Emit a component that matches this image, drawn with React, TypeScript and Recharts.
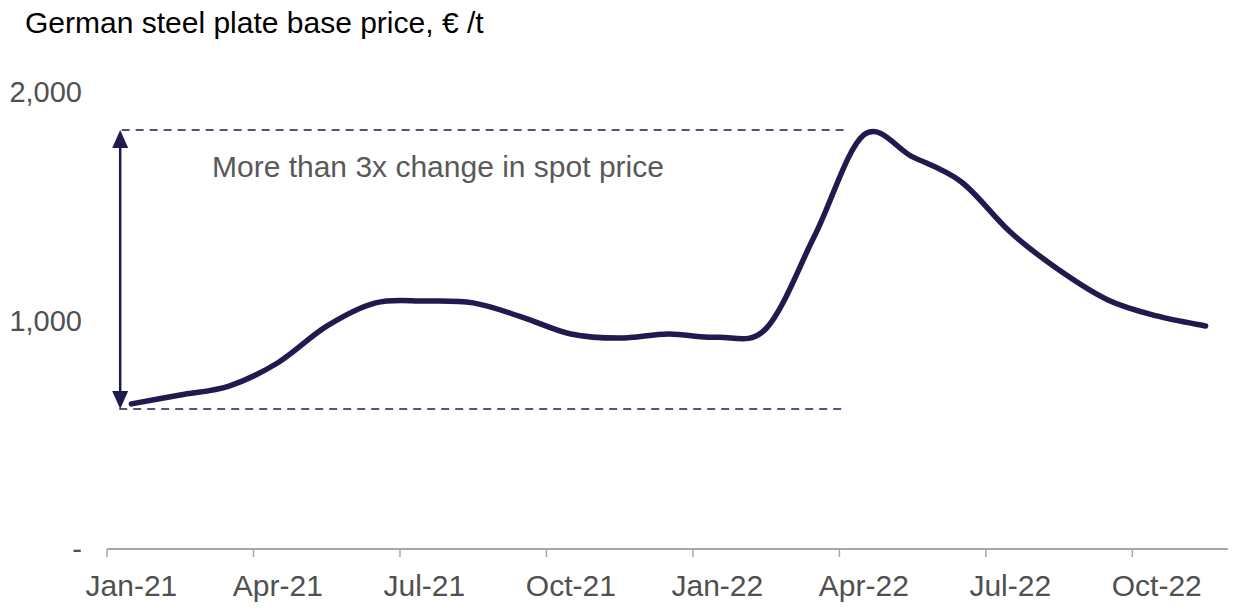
import React from 'react';
import { LineChart, Line, XAxis, YAxis, ReferenceLine, ReferenceDot } from 'recharts';

const months = [
  'Jan-21', 'Feb-21', 'Mar-21', 'Apr-21', 'May-21', 'Jun-21', 'Jul-21', 'Aug-21', 'Sep-21', 'Oct-21', 'Nov-21', 'Dec-21',
  'Jan-22', 'Feb-22', 'Mar-22', 'Apr-22', 'May-22', 'Jun-22', 'Jul-22', 'Aug-22', 'Sep-22', 'Oct-22', 'Nov-22',
];
const prices = [
  635, 674, 713, 815, 975, 1077, 1085, 1077, 1015, 941, 923, 941,
  927, 965, 1374, 1812, 1716, 1606, 1387, 1221, 1090, 1020, 976,
];
const xTickMonths = [0, 3, 6, 9, 12, 15, 18, 21];
const yTicks = [0, 1000, 2000];
const rangeLow = 613;
const rangeHigh = 1834;
const annotation = 'More than 3x change in spot price';
const title = 'German steel plate base price, \u20AC /t';

const data = months.map((label, i) => ({ m: i + 0.5, label, price: prices[i] }));
const labelTicks = xTickMonths.map((t) => t + 0.5);

const NAVY = '#1f1b4e';
const FONT = '"Liberation Sans", Arial, sans-serif';

// Excel-like smoothing (Catmull-Rom through the points)
function smoothCurve(context: any) {
  let pts: number[][] = [];
  return {
    areaStart() {},
    areaEnd() {},
    lineStart() { pts = []; },
    point(x: number, y: number) { pts.push([+x, +y]); },
    lineEnd() {
      const n = pts.length;
      if (!n) return;
      context.moveTo(pts[0][0], pts[0][1]);
      for (let i = 0; i < n - 1; i++) {
        const p0 = pts[Math.max(0, i - 1)];
        const p1 = pts[i];
        const p2 = pts[i + 1];
        const p3 = pts[Math.min(n - 1, i + 2)];
        context.bezierCurveTo(
          p1[0] + (p2[0] - p0[0]) / 6, p1[1] + (p2[1] - p0[1]) / 6,
          p2[0] - (p3[0] - p1[0]) / 6, p2[1] - (p3[1] - p1[1]) / 6,
          p2[0], p2[1],
        );
      }
    },
  };
}

const ArrowShape = (props: any) => {
  const { x1, y1, y2 } = props;
  const top = Math.min(y1, y2);
  const bottom = Math.max(y1, y2);
  const hw = 8;
  const hh = 18;
  return (
    <g>
      <line x1={x1} y1={top + hh - 2} x2={x1} y2={bottom - hh + 2} stroke={NAVY} strokeWidth={2.5} />
      <polygon points={`${x1},${top} ${x1 - hw},${top + hh} ${x1 + hw},${top + hh}`} fill={NAVY} />
      <polygon points={`${x1},${bottom} ${x1 - hw},${bottom - hh} ${x1 + hw},${bottom - hh}`} fill={NAVY} />
    </g>
  );
};

const AnnotationShape = (props: any) => (
  <text x={props.cx} y={props.cy} fill="#595959" fontSize={30} fontFamily={FONT} textAnchor="start">
    {annotation}
  </text>
);

export default function App() {
  return (
    <div style={{ position: 'relative', width: 1228, height: 600, fontFamily: FONT }}>
      <div style={{ position: 'absolute', left: 17, top: 0, fontSize: 30, lineHeight: '30px', color: '#000', whiteSpace: 'nowrap' }}>
        {title}
      </div>
      <LineChart width={1228} height={600} data={data} margin={{ top: 84, right: 6, left: 0, bottom: 6 }}>
        <XAxis
          xAxisId="axisA"
          dataKey="m"
          type="number"
          domain={[0, 23]}
          ticks={xTickMonths}
          interval={0}
          tickFormatter={() => ''}
          tick={{ fontSize: 1, fill: 'none' }}
          tickSize={8}
          height={8}
          stroke="#a6a6a6"
          axisLine={{ stroke: '#a6a6a6', strokeWidth: 2 }}
          tickLine={{ stroke: '#a6a6a6', strokeWidth: 1.5 }}
        />
        <XAxis
          xAxisId="axisB"
          dataKey="m"
          type="number"
          domain={[0, 23]}
          ticks={labelTicks}
          axisLine={false}
          tickLine={false}
          tickSize={0}
          tickMargin={18}
          height={45}
          interval={0}
          tickFormatter={(v: number) => months[Math.floor(v)]}
          tick={{ fill: '#505050', fontSize: 30, fontFamily: FONT }}
        />
        <YAxis
          type="number"
          domain={[0, 2000]}
          ticks={yTicks}
          width={99}
          axisLine={false}
          tickLine={false}
          tickSize={0}
          tickMargin={25}
          interval={0}
          tickFormatter={(v: number) => (v === 0 ? '-' : v.toLocaleString('en-US'))}
          tick={{ fill: '#505050', fontSize: 29, fontFamily: FONT }}
        />
        <ReferenceLine
          xAxisId="axisA"
          segment={[{ x: 0.3, y: rangeHigh }, { x: 15.1, y: rangeHigh }]}
          stroke={NAVY}
          strokeWidth={1.5}
          strokeDasharray="8 6"
          ifOverflow="visible"
        />
        <ReferenceLine
          xAxisId="axisA"
          segment={[{ x: 0.25, y: rangeLow }, { x: 15.1, y: rangeLow }]}
          stroke={NAVY}
          strokeWidth={1.5}
          strokeDasharray="8 6"
          ifOverflow="visible"
        />
        <ReferenceLine
          xAxisId="axisA"
          segment={[{ x: 0.27, y: rangeLow }, { x: 0.27, y: rangeHigh }]}
          shape={ArrowShape}
          ifOverflow="visible"
        />
        <ReferenceDot
          xAxisId="axisA"
          x={2.15}
          y={1628}
          r={0}
          shape={AnnotationShape}
          ifOverflow="visible"
        />
        <Line
          xAxisId="axisA"
          dataKey="price"
          type={smoothCurve as any}
          stroke={NAVY}
          strokeWidth={5.5}
          strokeLinecap="round"
          dot={false}
          activeDot={false}
          isAnimationActive={false}
        />
      </LineChart>
    </div>
  );
}
